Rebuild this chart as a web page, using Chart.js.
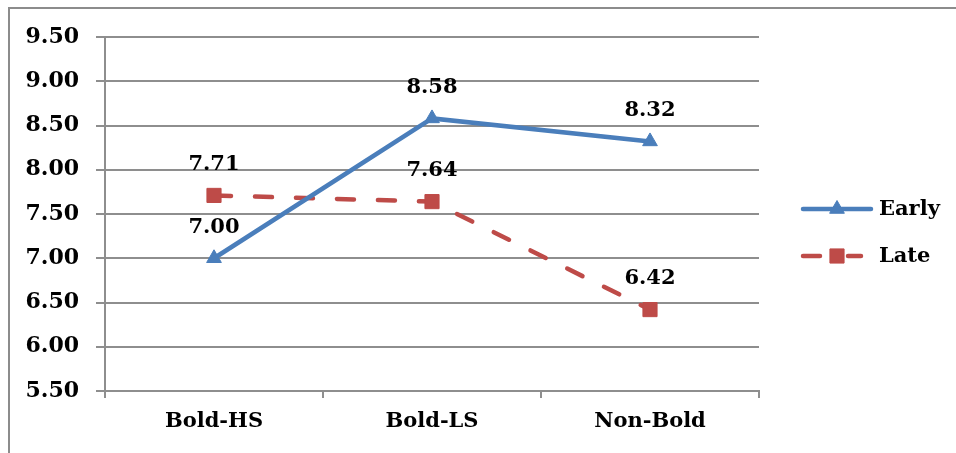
<!DOCTYPE html>
<html>
<head>
<meta charset="utf-8">
<script src="https://cdn.jsdelivr.net/npm/chart.js@4/dist/chart.umd.min.js"></script>
<style>
  html, body { margin: 0; padding: 0; background: #fff; }
  #wrap { position: absolute; left: 0; top: 0; width: 956px; height: 453px; }
</style>
</head>
<body>
<div id="wrap"><canvas id="scoreChart" width="956" height="453"></canvas></div>
<script>
// groups on the x axis
var groups = ["Bold-HS", "Bold-LS", "Non-Bold"];
// mean scores per group
var earlyScores = [7.00, 8.58, 8.32];
var lateScores = [7.71, 7.64, 6.42];
// y axis range
var yMin = 5.5, yMax = 9.5, yStep = 0.5;

var FONT = '"DejaVu Serif", "Liberation Serif", serif';
var BLUE = '#4a7ebb';
var RED = '#be4b48';

// outer frame (top and left edges only)
var framePlugin = {
    id: 'frame',
    beforeDraw: function (chart) {
        var c = chart.ctx;
        c.save();
        c.strokeStyle = '#8c8c8c';
        c.lineWidth = 2;
        c.beginPath();
        c.moveTo(9, 453);
        c.lineTo(9, 8);
        c.lineTo(956, 8);
        c.stroke();
        c.restore();
    }
};

// value above each point
var valueLabels = {
    id: 'valueLabels',
    afterDatasetsDraw: function (chart) {
        var c = chart.ctx;
        c.save();
        c.font = 'bold 21px ' + FONT;
        c.fillStyle = '#000';
        c.textAlign = 'center';
        c.textBaseline = 'middle';
        chart.data.datasets.forEach(function (ds, i) {
            chart.getDatasetMeta(i).data.forEach(function (pt, j) {
                c.fillText(ds.data[j].toFixed(2), pt.x, pt.y - 31);
            });
        });
        c.restore();
    }
};

// legend with line sample + marker
var lineLegend = {
    id: 'lineLegend',
    afterDraw: function (chart) {
        var c = chart.ctx;
        var rows = [209, 256];
        chart.data.datasets.forEach(function (ds, i) {
            var y = rows[i];
            c.save();
            c.strokeStyle = ds.borderColor;
            c.lineWidth = ds.borderWidth;
            c.lineCap = 'round';
            c.beginPath();
            if (i === 1) {
                c.moveTo(803, y); c.lineTo(820, y);
                c.moveTo(848, y); c.lineTo(861, y);
            } else {
                c.moveTo(803, y); c.lineTo(871, y);
            }
            c.stroke();
            c.restore();

            c.save();
            c.fillStyle = ds.pointBackgroundColor;
            c.strokeStyle = ds.pointBorderColor;
            c.lineWidth = 1;
            Chart.helpers.drawPoint(c, {
                pointStyle: ds.pointStyle,
                radius: ds.pointRadius,
                borderWidth: 1
            }, 837, y);
            c.restore();

            c.save();
            c.font = 'bold 21px ' + FONT;
            c.fillStyle = '#000';
            c.textAlign = 'left';
            c.textBaseline = 'middle';
            c.fillText(ds.label, 879, y + 1);
            c.restore();
        });
    }
};

var ctx = document.getElementById('scoreChart').getContext('2d');
var scoreChart = new Chart(ctx, {
    type: 'line',
    data: {
        labels: groups,
        datasets: [{
            label: 'Early',
            data: earlyScores,
            borderColor: BLUE,
            borderWidth: 4.5,
            pointStyle: 'triangle',
            pointRadius: 8.5,
            pointBackgroundColor: BLUE,
            pointBorderColor: BLUE,
            pointBorderWidth: 1,
            tension: 0
        }, {
            label: 'Late',
            data: lateScores,
            borderColor: RED,
            borderWidth: 4.5,
            borderDash: [17, 24],
            borderCapStyle: 'round',
            pointStyle: 'rect',
            pointRadius: 10,
            pointBackgroundColor: RED,
            pointBorderColor: RED,
            pointBorderWidth: 1,
            tension: 0
        }]
    },
    options: {
        responsive: false,
        animation: false,
        events: [],
        layout: { padding: { left: 0, top: 37, right: 197, bottom: 0 } },
        plugins: {
            legend: { display: false },
            tooltip: { enabled: false }
        },
        scales: {
            x: {
                offset: true,
                grid: {
                    offset: true,
                    drawOnChartArea: false,
                    drawTicks: true,
                    tickLength: 7,
                    color: '#8e8e8e',
                    lineWidth: 2
                },
                border: { display: true, color: '#8e8e8e', width: 2 },
                ticks: {
                    color: '#000',
                    padding: 11,
                    font: { family: FONT, size: 21, weight: 'bold' }
                },
                afterFit: function (scale) { scale.height = 62; }
            },
            y: {
                min: yMin,
                max: yMax,
                grid: {
                    color: '#8e8e8e',
                    lineWidth: 2,
                    tickLength: 9
                },
                border: { display: true, color: '#8e8e8e', width: 2 },
                ticks: {
                    stepSize: yStep,
                    color: '#000',
                    padding: 17,
                    font: { family: FONT, size: 22, weight: 'bold' },
                    callback: function (v) { return v.toFixed(2); }
                },
                afterFit: function (scale) { scale.width = 105; }
            }
        }
    },
    plugins: [framePlugin, valueLabels, lineLegend]
});
</script>
</body>
</html>
